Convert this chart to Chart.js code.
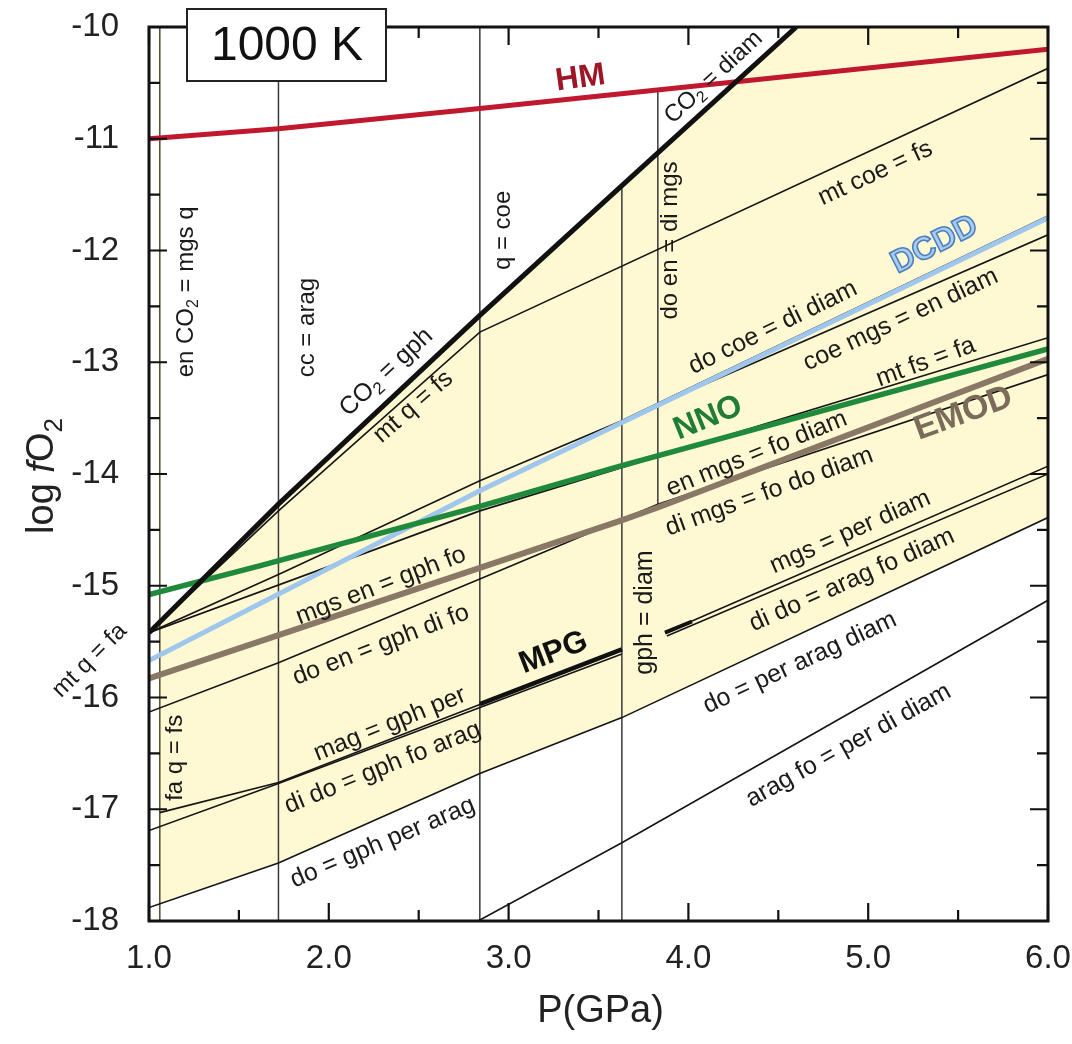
<!DOCTYPE html>
<html>
<head>
<meta charset="utf-8">
<title>log fO2 vs P, 1000 K</title>
<script src="https://cdn.jsdelivr.net/npm/chart.js@4.4.1/dist/chart.umd.min.js"></script>
<style>
  html, body { margin: 0; padding: 0; background: #fff; }
</style>
</head>
<body>
<canvas id="chart" width="1072" height="1044"></canvas>
<script>
const FONT = '"Liberation Sans", Arial, Helvetica, sans-serif';

// axis ticks (minor ticks carry an empty label)
const P_TICKS = [1.0, 1.5, 2.0, 2.5, 3.0, 3.5, 4.0, 4.5, 5.0, 5.5, 6.0];
const P_LABELS = ['1.0', '', '2.0', '', '3.0', '', '4.0', '', '5.0', '', '6.0'];
const FO2_TICKS = [-10, -10.5, -11, -11.5, -12, -12.5, -13, -13.5, -14, -14.5, -15, -15.5, -16, -16.5, -17, -17.5, -18];
const FO2_LABELS = ['-10', '', '-11', '', '-12', '', '-13', '', '-14', '', '-15', '', '-16', '', '-17', '', '-18'];

// buffers: [P (GPa), log fO2]
const HM = [[1.0, -11.0], [1.72, -10.91], [2.84, -10.73], [6.0, -10.2]];
const NNO = [[1.0, -15.08], [1.62, -14.82], [2.84, -14.29], [3.62, -13.93], [6.0, -12.88]];
const DCDD = [[1.0, -15.67], [2.84, -14.15], [6.0, -11.71]];
const EMOD = [[1.0, -15.83], [2.84, -14.84], [3.62, -14.42], [3.83, -14.3], [6.0, -12.97]];
const MPG = [[2.84, -16.06], [3.63, -15.57]];
const MPD = [[3.87, -15.42], [4.02, -15.32]];

// CO2 = gph / CO2 = diam
const CO2_C = [[1.0, -15.42], [1.72, -14.27], [2.84, -12.58], [3.63, -11.42], [4.6, -10.0]];

// thin reaction curves
const MT_FS = [[1.0, -15.42], [1.72, -14.33], [2.84, -12.73], [6.0, -10.37]];
const DO_COE = [[1.0, -15.42], [1.72, -14.9], [2.84, -14.06], [3.62, -13.53], [6.0, -11.69]];
const COE_MGS = [[3.83, -13.38], [6.0, -11.86]];
const MT_FS_FA = [[1.0, -15.42], [2.84, -14.33], [6.0, -12.78]];
const DO_EN = [[1.0, -16.13], [1.72, -15.69], [2.84, -14.94], [3.83, -14.27]];
const DI_MGS = [[3.83, -14.27], [6.0, -13.11]];
const MAG = [[1.06, -17.03], [1.72, -16.76], [3.63, -15.57]];
const DI_DO_GPH = [[1.0, -17.19], [1.72, -16.77], [3.63, -15.61]];
const MGS_PER = [[3.87, -15.42], [6.0, -13.93]];
const DI_DO_ARAG = [[3.88, -15.45], [6.0, -14.0]];
const DO_PER = [[1.0, -17.88], [1.72, -17.48], [2.84, -16.68], [3.63, -16.18], [6.0, -14.39]];
const ARAG_FO = [[2.83, -18.0], [3.63, -17.3], [6.0, -15.13]];

// vertical boundaries
const EN_CO2 = [[1.06, -10.0], [1.06, -18.0]];
const CC_ARAG = [[1.72, -10.0], [1.72, -18.0]];
const Q_COE = [[2.84, -10.0], [2.84, -18.0]];
const GPH_DIAM = [[3.63, -11.42], [3.63, -18.0]];
const DO_EN_DI = [[3.83, -10.56], [3.83, -14.27]];

// text along the curves: [text, P, log fO2, angle, size, weight, fill, outline]
const LABELS = [
  ['HM', 3.40, -10.46, -8, 32, 'bold', '#9e1528'],
  ['CO_2 = diam', 4.14, -10.45, -43, 24],
  ['CO_2 = gph', 2.32, -13.09, -43, 25],
  ['mt q = fs', 2.47, -13.40, -41, 25],
  ['mt coe = fs', 5.04, -11.31, -25, 25],
  ['DCDD', 5.37, -11.95, -27, 32, 'bold', '#a9cdee', '#4d7fbf'],
  ['do coe = di diam', 4.47, -12.69, -26, 25],
  ['coe mgs = en diam', 5.18, -12.62, -25, 25],
  ['mt fs = fa', 5.32, -13.0, -20, 25],
  ['NNO', 4.11, -13.5, -22, 32, 'bold', '#1f7d37'],
  ['EMOD', 5.53, -13.46, -20, 34, 'bold', '#7b6b5a'],
  ['en mgs = fo diam', 4.38, -13.82, -22, 25],
  ['di mgs = fo do diam', 4.45, -14.16, -20, 25],
  ['mgs = per diam', 4.9, -14.52, -24, 25],
  ['di do = arag fo diam', 4.91, -14.95, -24, 25],
  ['do = per arag diam', 4.62, -15.69, -25, 25],
  ['arag fo = per di diam', 4.89, -16.43, -29, 25],
  ['gph = diam', 3.76, -15.24, -90, 25],
  ['MPG', 3.25, -15.6, -21, 31, 'bold', '#111'],
  ['mgs en = gph fo', 2.29, -15.0, -21, 25],
  ['do en = gph di fo', 2.29, -15.53, -21, 25],
  ['mag = gph per', 2.34, -16.24, -22, 25],
  ['di do = gph fo arag', 2.30, -16.63, -22, 25],
  ['do = gph per arag', 2.30, -17.30, -23, 25],
  ['fa q = fs', 1.145, -16.54, -90, 24],
  ['en CO_2 = mgs q', 1.206, -12.37, -90, 24],
  ['cc = arag', 1.88, -12.69, -90, 24],
  ['q = coe', 2.97, -11.82, -90, 24],
  ['do en = di mgs', 3.90, -11.91, -90, 24],
  ['mt q = fa', 0.67, -15.67, -45, 24]
];

const toXY = pts => pts.map(([x, y]) => ({ x, y }));

function yAt(pts, p) {
  for (let i = 1; i < pts.length; i++) {
    const [x0, y0] = pts[i - 1], [x1, y1] = pts[i];
    if (p >= x0 && p <= x1) return y0 + (y1 - y0) * (p - x0) / (x1 - x0);
  }
  return pts[pts.length - 1][1];
}

// pale yellow stability field: under the CO2 curve, above do = per arag, right of P = 1.06
const LEFT = EN_CO2[0][0];
const field = [
  { x: LEFT, y: yAt(CO2_C, LEFT) },
  ...toXY(CO2_C.filter(d => d[0] > LEFT)),
  { x: 6.0, y: -10.0 },
  { x: 6.0, y: yAt(DO_PER, 6.0) },
  ...toXY(DO_PER.filter(d => d[0] > LEFT && d[0] < 6.0).reverse()),
  { x: LEFT, y: yAt(DO_PER, LEFT) }
];

function line(pts, color, width, order) {
  return {
    data: toXY(pts), borderColor: color, borderWidth: width,
    pointRadius: 0, fill: false, tension: 0, order
  };
}

const THIN = '#151515';
const VERT = '#3a3a3a';

const datasets = [
  { data: field, borderWidth: 0, borderColor: 'rgba(0,0,0,0)', backgroundColor: '#fff9d3',
    pointRadius: 0, fill: 'shape', tension: 0, order: 100 },
  line(EN_CO2, '#5a5535', 1.6, 60),
  line(CC_ARAG, VERT, 1.5, 60),
  line(Q_COE, VERT, 1.5, 60),
  line(GPH_DIAM, VERT, 1.5, 60),
  line(DO_EN_DI, VERT, 1.5, 60),
  line(MT_FS, THIN, 1.6, 50),
  line(DO_COE, THIN, 1.6, 50),
  line(COE_MGS, THIN, 1.6, 50),
  line(MT_FS_FA, THIN, 1.6, 50),
  line(DO_EN, THIN, 1.6, 50),
  line(DI_MGS, THIN, 1.6, 50),
  line(MAG, THIN, 1.6, 50),
  line(DI_DO_GPH, THIN, 1.6, 50),
  line(MGS_PER, THIN, 1.6, 50),
  line(DI_DO_ARAG, THIN, 1.6, 50),
  line(DO_PER, THIN, 1.6, 50),
  line(ARAG_FO, THIN, 1.6, 50),
  line(DCDD, '#9fc6ec', 5, 20),
  line(EMOD, '#8a7866', 6, 20),
  line(NNO, '#1f8a3c', 5.5, 15),
  line(HM, '#c0182f', 5, 15),
  line(MPG, '#111', 4.5, 12),
  line(MPD, '#111', 4, 12),
  line(CO2_C, '#111', 5, 10)
];

// split "CO_2" style text into runs, '_' makes the next char a subscript
function runs(text) {
  const out = [];
  let buf = '';
  for (let i = 0; i < text.length; i++) {
    if (text[i] === '_' && i + 1 < text.length) {
      if (buf) out.push({ t: buf });
      out.push({ t: text[i + 1], sub: true });
      buf = '';
      i++;
    } else {
      buf += text[i];
    }
  }
  if (buf) out.push({ t: buf });
  return out;
}

function drawRuns(ctx, parts, x, y, angle, size, weight, fill, outline) {
  const fontOf = p => `${p.italic ? 'italic ' : ''}${weight} ${p.sub ? Math.round(size * 0.68) : size}px ${FONT}`;
  ctx.save();
  let w = 0;
  for (const p of parts) {
    ctx.font = fontOf(p);
    p.w = ctx.measureText(p.t).width;
    w += p.w;
  }
  ctx.translate(x, y);
  ctx.rotate(angle * Math.PI / 180);
  ctx.textBaseline = 'middle';
  ctx.textAlign = 'left';
  let cx = -w / 2;
  for (const p of parts) {
    ctx.font = fontOf(p);
    const dy = p.sub ? size * 0.3 : 0;
    ctx.fillStyle = fill;
    ctx.fillText(p.t, cx, dy);
    if (outline) {
      ctx.lineWidth = 1.6;
      ctx.strokeStyle = outline;
      ctx.strokeText(p.t, cx, dy);
    }
    cx += p.w;
  }
  ctx.restore();
}

const decorations = {
  id: 'decorations',
  afterDatasetsDraw(chart) {
    const { ctx, scales: { x, y } } = chart;
    for (const [text, p, v, angle, size, weight, fill, outline] of LABELS) {
      drawRuns(ctx, runs(text), x.getPixelForValue(p), y.getPixelForValue(v), angle,
        size, weight || 'normal', fill || '#1a1a1a', outline);
    }
  },
  afterDraw(chart) {
    const { ctx, chartArea: a, scales: { x, y } } = chart;
    ctx.save();
    // inward tick marks on all four sides
    ctx.strokeStyle = '#111';
    ctx.lineWidth = 2.2;
    ctx.beginPath();
    P_TICKS.forEach((v, i) => {
      const px = x.getPixelForValue(v);
      const len = P_LABELS[i] ? 18 : 11;
      ctx.moveTo(px, a.bottom); ctx.lineTo(px, a.bottom - len);
      ctx.moveTo(px, a.top); ctx.lineTo(px, a.top + len);
    });
    FO2_TICKS.forEach((v, i) => {
      const py = y.getPixelForValue(v);
      const len = FO2_LABELS[i] ? 18 : 11;
      ctx.moveTo(a.left, py); ctx.lineTo(a.left + len, py);
      ctx.moveTo(a.right, py); ctx.lineTo(a.right - len, py);
    });
    ctx.stroke();
    // frame
    ctx.lineWidth = 3;
    ctx.strokeRect(a.left, a.top, a.right - a.left, a.bottom - a.top);

    // axis titles
    drawRuns(ctx, [{ t: 'P(GPa)' }], (a.left + a.right) / 2 + 2, 1012, 0, 38, 'normal', '#222');
    drawRuns(ctx, [{ t: 'log ' }, { t: 'f', italic: true }, { t: 'O' }, { t: '2', sub: true }],
      43, 476, -90, 38, 'normal', '#222');

    // temperature box
    ctx.fillStyle = '#fff';
    ctx.fillRect(187, 9, 199, 72);
    ctx.lineWidth = 2;
    ctx.strokeStyle = '#222';
    ctx.strokeRect(187, 9, 199, 72);
    drawRuns(ctx, [{ t: '1000 K' }], 287, 47, 0, 48, 'normal', '#111');
    ctx.restore();
  }
};

new Chart(document.getElementById('chart'), {
  type: 'line',
  data: { datasets },
  options: {
    responsive: false,
    animation: false,
    events: [],
    layout: { padding: { left: 0, right: 24, top: 27, bottom: 0 } },
    plugins: { legend: { display: false }, tooltip: { enabled: false } },
    scales: {
      x: {
        type: 'linear', min: 1, max: 6,
        grid: { display: false }, border: { display: false },
        afterBuildTicks: s => { s.ticks = P_TICKS.map(value => ({ value })); },
        afterFit: s => { s.height = 123; s.paddingLeft = 0; s.paddingRight = 0; },
        ticks: {
          autoSkip: false, maxRotation: 0, padding: 10, color: '#222',
          font: { family: FONT, size: 33 },
          callback: v => P_LABELS[P_TICKS.indexOf(v)] || ''
        }
      },
      y: {
        type: 'linear', min: -18, max: -10,
        grid: { display: false }, border: { display: false },
        afterBuildTicks: s => { s.ticks = FO2_TICKS.map(value => ({ value })); },
        afterFit: s => { s.width = 149; s.paddingTop = 0; s.paddingBottom = 0; },
        ticks: {
          autoSkip: false, padding: 22, color: '#222',
          font: { family: FONT, size: 33 },
          callback: v => FO2_LABELS[FO2_TICKS.indexOf(v)] || ''
        }
      }
    }
  },
  plugins: [decorations]
});
</script>
</body>
</html>
